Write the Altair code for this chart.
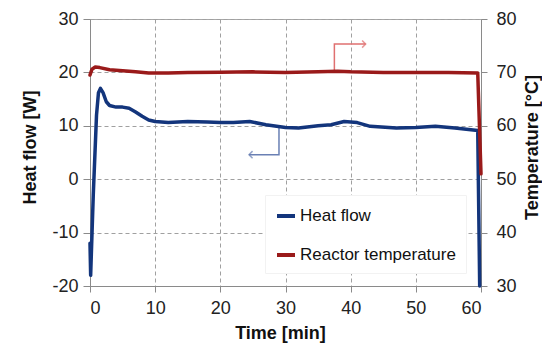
import altair as alt
import pandas as pd

# ---- data ----
time_hf = [0.0, 0.1, 0.5, 1.0, 1.3, 1.6, 2.0, 2.5, 3.0, 4.0, 5.0, 6.0, 7.0, 8.0, 9.0, 10.0,
           12.0, 15.0, 18.0, 20.0, 22.0, 24.5, 27.0, 30.0, 32.0, 35.0, 37.0, 39.0, 41.0,
           43.0, 47.0, 50.0, 53.0, 56.0, 59.5, 59.8]
heat_flow = [-12.0, -18.0, -3.0, 12.0, 16.2, 17.0, 16.2, 14.5, 13.8, 13.5, 13.5, 13.3, 12.6,
             11.8, 11.1, 10.8, 10.6, 10.8, 10.7, 10.6, 10.6, 10.8, 10.2, 9.7, 9.6, 10.0, 10.2,
             10.8, 10.6, 9.9, 9.6, 9.7, 9.9, 9.6, 9.1, -20.0]

time_temp = [0.0, 0.3, 0.8, 1.5, 3.0, 5.0, 7.0, 9.0, 12.0, 15.0, 20.0, 25.0, 30.0, 35.0,
             38.0, 40.0, 45.0, 50.0, 55.0, 59.5, 60.0]
temperature = [69.5, 70.6, 71.0, 70.9, 70.5, 70.3, 70.1, 69.9, 69.9, 70.0, 70.05, 70.1, 70.0,
               70.1, 70.2, 70.1, 70.0, 70.0, 70.0, 69.9, 51.0]

series_names = ["Heat flow", "Reactor temperature"]
x_ticks = [0, 10, 20, 30, 40, 50, 60]
hf_ticks = [-20, -10, 0, 10, 20, 30]
temp_ticks = [30, 40, 50, 60, 70, 80]

# annotation arrows (data coordinates)
blue_arrow_t = [29.0, 29.0, 24.4]
blue_arrow_v = [9.8, 4.6, 4.6]
red_arrow_t = [37.5, 37.5, 42.3]
red_arrow_v = [70.3, 75.3, 75.3]

BLUE = "#13357c"
RED = "#9a1a1a"
FONT = "Liberation Sans"
HYPHEN_LABEL = "datum.value < 0 ? '-' + abs(datum.value) : '' + datum.value"

hf_df = pd.DataFrame({"t": time_hf, "v": heat_flow, "series": series_names[0]})
temp_df = pd.DataFrame({"t": time_temp, "v": temperature, "series": series_names[1]})
barrow_df = pd.DataFrame({"t": blue_arrow_t, "v": blue_arrow_v, "o": [0, 1, 2]})
rarrow_df = pd.DataFrame({"t": red_arrow_t, "v": red_arrow_v, "o": [0, 1, 2]})
bhead_df = barrow_df.iloc[[2]]
rhead_df = rarrow_df.iloc[[2]]

x_enc = alt.X(
    "t:Q",
    scale=alt.Scale(domain=[0, 60], nice=False),
    axis=alt.Axis(values=x_ticks, title="Time [min]", grid=True, gridDash=[4, 3],
                  gridColor="#a0a0a0", tickSize=6, labelPadding=7,
                  titleX=190, titleY=47, titleBaseline="middle"),
)

color_enc = alt.Color(
    "series:N",
    scale=alt.Scale(domain=series_names, range=[BLUE, RED]),
    legend=alt.Legend(orient="none", legendX=175, legendY=176, padding=10,
                      fillColor="white", strokeColor="#f2f2f2", title=None,
                      symbolType="stroke", symbolStrokeWidth=4, symbolSize=324,
                      labelFontSize=17, labelFont=FONT, labelColor="#111",
                      rowPadding=20, labelOffset=3),
)

hf_scale = alt.Scale(domain=[-20, 30], nice=False)
temp_scale = alt.Scale(domain=[30, 80], nice=False)

hf_line = alt.Chart(hf_df).mark_line(strokeWidth=3.5, strokeJoin="round", strokeCap="round").encode(
    x=x_enc,
    y=alt.Y("v:Q", scale=hf_scale,
            axis=alt.Axis(values=hf_ticks, title="Heat flow [W]", orient="left", grid=True,
                          gridDash=[4, 3], gridColor="#a0a0a0", tickSize=7, labelPadding=5,
                          labelExpr=HYPHEN_LABEL,
                          titleX=-60, titleY=128, titleAngle=270, titleBaseline="middle",
                          titleAlign="center")),
    color=color_enc,
)

temp_line = alt.Chart(temp_df).mark_line(strokeWidth=3.5, strokeJoin="round", strokeCap="round").encode(
    x=x_enc,
    y=alt.Y("v:Q", scale=temp_scale,
            axis=alt.Axis(values=temp_ticks, title="Temperature [°C]", orient="right", grid=False,
                          tickSize=6, labelPadding=9, titleX=51, titleY=128, titleAngle=270,
                          titleBaseline="middle", titleAlign="center")),
    color=color_enc,
)

blue_arrow = alt.Chart(barrow_df).mark_line(color="#6a80b4", strokeWidth=1.5).encode(
    x=x_enc, y=alt.Y("v:Q", scale=hf_scale, axis=None), order="o:Q")
blue_head = alt.Chart(bhead_df).mark_point(shape="M1,-1L0,0L1,1", size=50, filled=False,
                                           color="#6a80b4", strokeWidth=1.5).encode(
    x=x_enc, y=alt.Y("v:Q", scale=hf_scale, axis=None))

red_arrow = alt.Chart(rarrow_df).mark_line(color="#e07070", strokeWidth=1.5).encode(
    x=x_enc, y=alt.Y("v:Q", scale=temp_scale, axis=None), order="o:Q")
red_head = alt.Chart(rhead_df).mark_point(shape="M-1,-1L0,0L-1,1", size=50, filled=False,
                                          color="#e07070", strokeWidth=1.5).encode(
    x=x_enc, y=alt.Y("v:Q", scale=temp_scale, axis=None))

chart = alt.layer(
    blue_arrow, blue_head, red_arrow, red_head, hf_line, temp_line
).resolve_scale(y="independent").properties(
    width=391, height=267,
    autosize=alt.AutoSizeParams(type="none"),
    padding={"left": 82, "top": 11, "right": 61, "bottom": 57},
    background="white",
).configure_axis(
    labelFont=FONT, titleFont=FONT, labelFontSize=18, titleFontSize=18,
    labelColor="#222", titleColor="#111", domainColor="#8a8a8a", tickColor="#8a8a8a",
    titleFontWeight="bold",
).configure_view(stroke="#a8a8a8")

chart.save("out.html", embed_options={"renderer": "svg", "actions": False})
